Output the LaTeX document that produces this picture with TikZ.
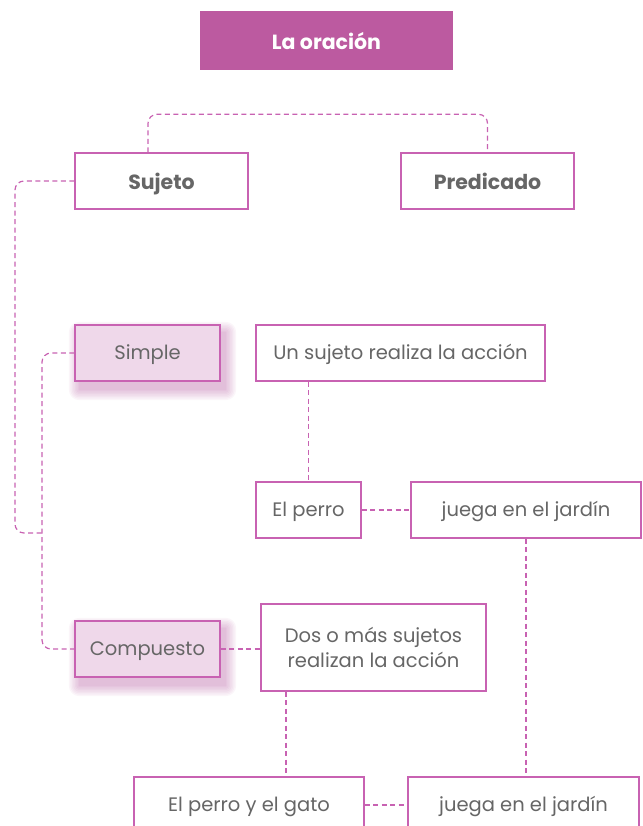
\documentclass[tikz,border=0pt]{standalone}
\usepackage{fontspec}
\setmainfont{Poppins}
\usetikzlibrary{calc,backgrounds}
\definecolor{cMag} {HTML}{BC5AA0}
\definecolor{cLine}{HTML}{C862B2}
\definecolor{cFill}{HTML}{EFD8EA}
\definecolor{cShd} {HTML}{B0509A}
\definecolor{cTxt} {HTML}{666666}
\tikzset{
  box/.style  ={draw=cLine,fill=white,line width=1.4pt,inner sep=0pt,
                align=center,font=\fontsize{19.5}{25}\selectfont,text=cTxt},
  one/.style  ={text height=15pt,text depth=2pt},
  bld/.style  ={text height=18pt,text depth=0pt},
  head/.style ={box,bld,font=\fontsize{20.5}{25}\selectfont\bfseries},
  kind/.style ={box,one,fill=cFill},
  ttl/.style  ={draw=none,fill=cMag,text=white,inner sep=0pt,bld,
                font=\fontsize{20.5}{22}\selectfont\bfseries},
  lnk/.style  ={draw=cLine,line width=1.2pt,dash pattern=on 5pt off 3.5pt,
                rounded corners=9pt},
  shd/.style  ={fill=cShd,fill opacity=.055,draw=none},
}

\begin{document}
\begin{tikzpicture}[x=1pt,y=1pt]
\clip (0,0) rectangle (642,-826);

\node[ttl,minimum width=253pt,minimum height=59pt] (title) at (326.5,-41) {La oración};

\node[head,minimum width=173pt,minimum height=56pt] (sujeto)    at (161.5,-181) {Sujeto};
\node[head,minimum width=173pt,minimum height=56pt] (predicado) at (487.5,-181) {Predicado};

\node[kind,minimum width=145pt,minimum height=56pt] (simple) at (147.5,-353) {Simple};
\node[box,one,minimum width=289pt,minimum height=56pt] (unsuj)  at (400.5,-353) {Un sujeto realiza la acción};
\node[box,one,minimum width=105pt,minimum height=56pt] (perro)  at (308.5,-510) {El perro};
\node[box,one,minimum width=230pt,minimum height=56pt] (juegaA) at (526,-510)   {juega en el jardín};

\node[kind,minimum width=145pt,minimum height=56pt] (compuesto) at (147.5,-649) {Compuesto};
\node[box, minimum width=225pt,minimum height=87pt] (dos)    at (373.5,-647.5)
  {Dos o más sujetos\\realizan la acción};
\node[box,one,minimum width=230pt,minimum height=56pt] (gato)   at (249,-805)   {El perro y el gato};
\node[box,one,minimum width=231pt,minimum height=56pt] (juegaB) at (523.5,-805) {juega en el jardín};

% soft shadow under the two kinds
\begin{scope}[on background layer]
\foreach \n in {simple,compuesto}{%
  \foreach \e in {0,1.5,...,10.5}{%
    \fill[shd,rounded corners=\e pt]
      ($(\n.south west)+(5-\e,-8-\e)$) rectangle ($(\n.north east)+(5+\e,-8+\e)$);}}
\end{scope}

% joint of the two rails
\coordinate (jn) at (42,-533);

\draw[lnk] ([xshift=-13.5pt]sujeto.north) -- ++(0,38) -| (predicado.north);
\draw[lnk] (sujeto.west) -| ([xshift=-27pt]jn) -- (jn);
\draw[lnk] (simple.west) -| (jn) |- (compuesto.west);

\draw[lnk] (perro.north |- unsuj.south) -- (perro.north);
\draw[lnk] (perro.east) -- (juegaA.west);
\draw[lnk] (juegaA.south) -- (juegaA.south |- juegaB.north);

\draw[lnk] (compuesto.east) -- (compuesto.east -| dos.west);
\draw[lnk] ([xshift=-87.5pt]dos.south) -- ([xshift=-87.5pt]dos.south |- gato.north);
\draw[lnk] (gato.east) -- (juegaB.west);
\end{tikzpicture}
\end{document}
